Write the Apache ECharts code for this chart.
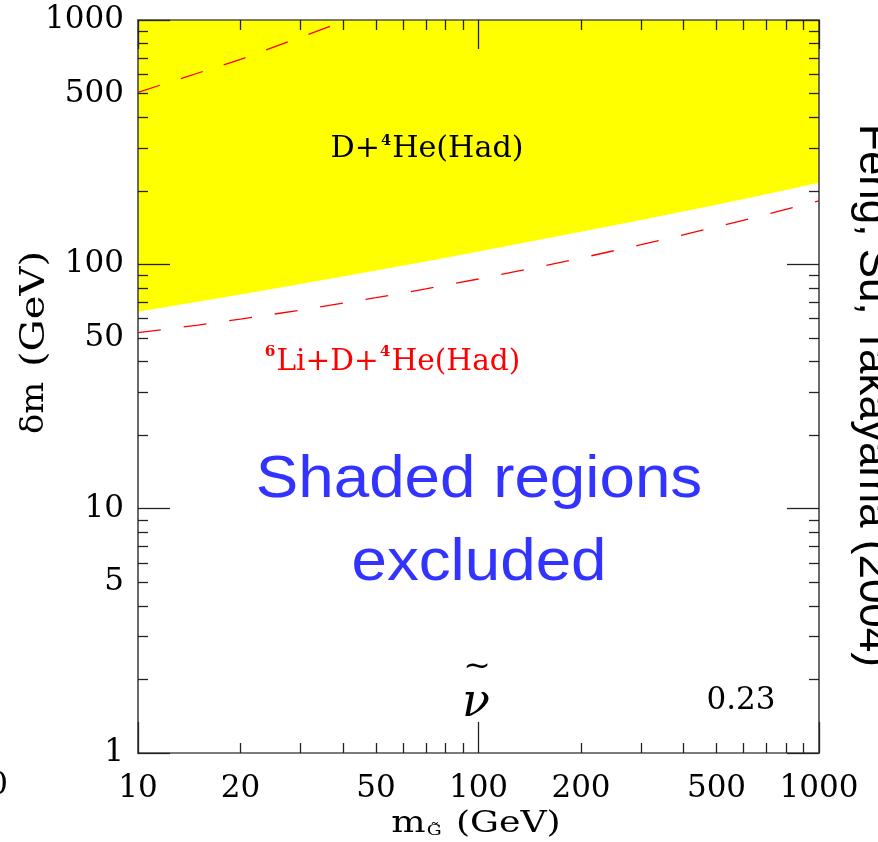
<!DOCTYPE html>
<html>
<head>
<meta charset="utf-8">
<script src="https://cdn.jsdelivr.net/npm/echarts@6/dist/echarts.min.js"></script>
<style>
  html, body { margin: 0; padding: 0; background: #ffffff; }
  #chart { width: 878px; height: 842px; }
</style>
</head>
<body>
<div id="chart"></div>
<script>
// Tick labels and tick marks (log axes)
const xLabelValues = [10, 20, 50, 100, 200, 500, 1000];
const yLabelValues = [1, 5, 10, 50, 100, 500, 1000];
const xMinorTickValues = [20, 30, 40, 50, 60, 70, 80, 90, 200, 300, 400, 500, 600, 700, 800, 900];
const yMinorTickValues = [2, 3, 4, 5, 6, 7, 8, 9, 20, 30, 40, 50, 60, 70, 80, 90, 200, 300, 400, 500, 600, 700, 800, 900];
const xMajorTickValues = [10, 100, 1000];
const yMajorTickValues = [1, 10, 100, 1000];

// D + 4He (hadronic) excluded region: lower boundary, region extends up to the top of the plot
const hadBoundaryX = [10, 20, 30, 50, 70, 100, 200, 300, 500, 700, 1000];
const hadBoundaryY = [64, 75.3, 83, 94.3, 102.8, 112.8, 135.8, 151.9, 175.5, 193.4, 215.8];

// 6Li + D + 4He (hadronic) bound, dashed
const li6BoundX = [10, 15, 20, 30, 50, 70, 100, 150, 200, 300, 500, 700, 1000];
const li6BoundY = [52.5, 56.4, 59.7, 64.9, 73, 79.3, 87.1, 97.5, 106.1, 120.3, 142.3, 159.9, 182];

// dashed bound crossing the upper-left corner
const upperBoundX = [10, 20, 40, 50];
const upperBoundY = [506, 690, 985, 1090];

const pair = (xs, ys) => xs.map((x, i) => [x, ys[i]]);

const SERIF = '"DejaVu Serif", "Liberation Serif", serif';
const SANS = '"Liberation Sans", Arial, sans-serif';
const AXIS_COLOR = '#505050';
const TICK_COLOR = '#222222';

function logAxis(kind, position, opts) {
  const isX = kind === 'x';
  return {
    type: 'log',
    logBase: 10,
    position: position,
    min: isX ? 10 : 1,
    max: 1000,
    z: 10,
    gridIndex: 0,
    axisLine: { show: !!opts.line, lineStyle: { color: AXIS_COLOR, width: 1.7 } },
    splitLine: { show: false },
    minorTick: { show: false },
    axisTick: {
      show: true,
      inside: true,
      length: opts.tickLen,
      customValues: opts.ticks,
      lineStyle: { color: TICK_COLOR, width: 1.3 }
    },
    axisLabel: opts.labels ? {
      show: true,
      customValues: opts.labels,
      fontFamily: SERIF,
      fontSize: 31,
      color: '#000',
      margin: isX ? 20 : 14,
      formatter: v => String(Math.round(v))
    } : { show: false }
  };
}

const chart = echarts.init(document.getElementById('chart'), null, { renderer: 'canvas' });

chart.setOption({
  animation: false,
  backgroundColor: '#ffffff',
  grid: { left: 138, right: 59, top: 20, bottom: 89, containLabel: false },
  xAxis: [
    logAxis('x', 'bottom', { line: true, tickLen: 10, ticks: xMinorTickValues, labels: xLabelValues }),
    logAxis('x', 'bottom', { line: false, tickLen: 31, ticks: xMajorTickValues }),
    logAxis('x', 'top', { line: true, tickLen: 10, ticks: xMinorTickValues }),
    logAxis('x', 'top', { line: false, tickLen: 29, ticks: xMajorTickValues })
  ],
  yAxis: [
    logAxis('y', 'left', { line: true, tickLen: 10, ticks: yMinorTickValues, labels: yLabelValues }),
    logAxis('y', 'left', { line: false, tickLen: 32, ticks: yMajorTickValues }),
    logAxis('y', 'right', { line: true, tickLen: 10, ticks: yMinorTickValues }),
    logAxis('y', 'right', { line: false, tickLen: 32, ticks: yMajorTickValues })
  ],
  series: [
    {
      name: 'D+4He(Had)',
      type: 'line',
      xAxisIndex: 0,
      yAxisIndex: 0,
      data: pair(hadBoundaryX, hadBoundaryY),
      showSymbol: false,
      symbol: 'none',
      lineStyle: { width: 0, color: '#ffff00' },
      areaStyle: { color: '#ffff00', opacity: 1, origin: 'end' },
      z: 1,
      silent: true
    },
    {
      name: '6Li+D+4He(Had)',
      type: 'line',
      xAxisIndex: 0,
      yAxisIndex: 0,
      data: pair(li6BoundX, li6BoundY),
      symbol: 'none',
      clip: true,
      lineStyle: { color: '#ff0000', width: 1.3, type: [23, 23], dashOffset: 0 },
      z: 3,
      silent: true
    },
    {
      name: 'upper bound',
      type: 'line',
      xAxisIndex: 0,
      yAxisIndex: 0,
      data: pair(upperBoundX, upperBoundY),
      symbol: 'none',
      clip: true,
      lineStyle: { color: '#ff0000', width: 1.3, type: [23, 22], dashOffset: 0 },
      z: 3,
      silent: true
    }
  ],
  graphic: [
    // region label inside the yellow band
    {
      type: 'text', x: 427, y: 148, z: 20, scaleX: 1.04,
      style: {
        text: '{n|D+}{s|4}{n|He(Had)}',
        align: 'center', verticalAlign: 'middle',
        rich: {
          n: { fontFamily: SERIF, fontSize: 29, lineHeight: 32, fill: '#000', verticalAlign: 'bottom' },
          s: { fontFamily: SERIF, fontSize: 14, fontWeight: 'bold', lineHeight: 14, fill: '#000', verticalAlign: 'top', padding: [2, 1, 0, 1] }
        }
      }
    },
    {
      type: 'text', x: 392, y: 361, z: 20, scaleX: 1.02,
      style: {
        text: '{s|6}{n|Li+D+}{s|4}{n|He(Had)}',
        align: 'center', verticalAlign: 'middle',
        rich: {
          n: { fontFamily: SERIF, fontSize: 29, lineHeight: 32, fill: '#ff0000', verticalAlign: 'bottom' },
          s: { fontFamily: SERIF, fontSize: 15, fontWeight: 'bold', lineHeight: 15, fill: '#ff0000', verticalAlign: 'top', padding: [0, 1, 0, 1] }
        }
      }
    },
    // centre note
    {
      type: 'text', x: 479, y: 481, z: 20, scaleX: 1.08,
      style: { text: 'Shaded regions', align: 'center', verticalAlign: 'middle',
        fontFamily: SANS, fontSize: 59, fill: '#3333ff' }
    },
    {
      type: 'text', x: 479, y: 564, z: 20, scaleX: 1.08,
      style: { text: 'excluded', align: 'center', verticalAlign: 'middle',
        fontFamily: SANS, fontSize: 59, fill: '#3333ff' }
    },
    // sneutrino symbol and ratio
    {
      type: 'text', x: 476, y: 704, z: 20,
      style: { text: 'ν', align: 'center', verticalAlign: 'middle',
        fontFamily: SERIF, fontStyle: 'italic', fontSize: 46, fill: '#000' }
    },
    {
      type: 'text', x: 477, y: 667, z: 20, scaleX: 1.1,
      style: { text: '~', align: 'center', verticalAlign: 'middle',
        fontFamily: SERIF, fontSize: 30, fill: '#000' }
    },
    {
      type: 'text', x: 741, y: 701, z: 20,
      style: { text: '0.23', align: 'center', verticalAlign: 'middle',
        fontFamily: SERIF, fontSize: 31, fill: '#000' }
    },
    // axis titles
    {
      type: 'text', x: 476, y: 822, z: 20, scaleX: 1.25,
      style: {
        text: '{n|m}{s|G̃}{n| (GeV)}',
        align: 'center', verticalAlign: 'middle',
        rich: {
          n: { fontFamily: SERIF, fontSize: 29, lineHeight: 34, fill: '#000', verticalAlign: 'bottom' },
          s: { fontFamily: SERIF, fontSize: 15, lineHeight: 15, fill: '#000', verticalAlign: 'bottom', padding: [0, 2, 0, 1] }
        }
      }
    },
    {
      type: 'text', x: 35, y: 408, z: 20, rotation: Math.PI / 2, scaleX: 1.05,
      style: { text: 'δm', align: 'center', verticalAlign: 'middle',
        fontFamily: SERIF, fontSize: 32, fill: '#000' }
    },
    {
      type: 'text', x: 35, y: 309, z: 20, rotation: Math.PI / 2, scaleX: 1.18,
      style: { text: '(GeV)', align: 'center', verticalAlign: 'middle',
        fontFamily: SERIF, fontSize: 34, fill: '#000' }
    },
    // citation along the right edge
    {
      type: 'text', x: 872, y: 124, z: 20, rotation: -Math.PI / 2,
      style: { text: 'Feng, Su, Takayama (2004)', align: 'left', verticalAlign: 'middle',
        fontFamily: SANS, fontSize: 44, fill: '#000' }
    },
    // fragment of a neighbouring tick label at the left edge
    {
      type: 'text', x: 8, y: 786, z: 20,
      style: { text: '1000', align: 'right', verticalAlign: 'middle',
        fontFamily: SERIF, fontSize: 31, fill: '#000' }
    }
  ]
});
</script>
</body>
</html>
